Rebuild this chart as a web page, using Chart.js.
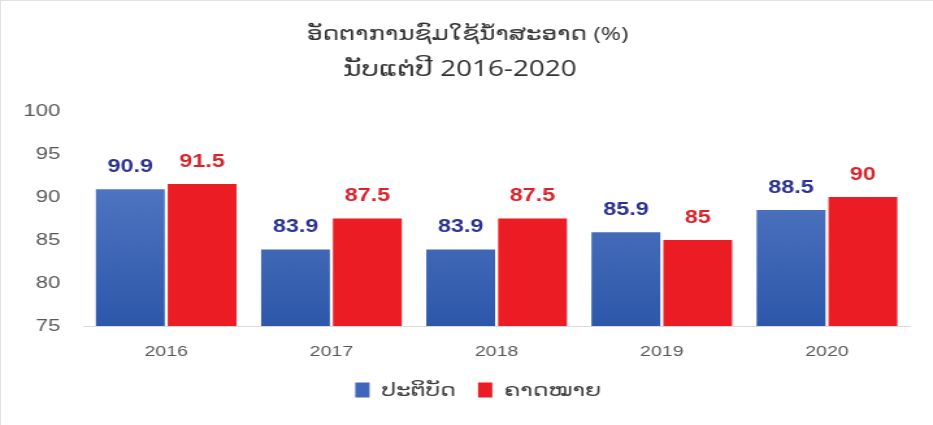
<!DOCTYPE html>
<html>
<head>
<meta charset="utf-8">
<script src="https://cdn.jsdelivr.net/npm/chart.js@4.4.1/dist/chart.umd.min.js"></script>
<style>
  html, body { margin: 0; padding: 0; background: #fff; }
  #frame { position: relative; width: 933px; height: 425px; overflow: hidden; background: #fff; }
  /* the chart is drawn on a narrower canvas and widened to the frame */
  #c { position: absolute; left: 0; top: 0; transform: scaleX(1.2994); transform-origin: 0 0; }
  #edge { position: absolute; left: 0; top: 0; right: 0; bottom: 0; box-sizing: border-box;
          border-top: 1px solid #e2e2e2; border-left: 1px solid #e2e2e2; pointer-events: none; }
</style>
</head>
<body>
<div id="frame">
  <canvas id="c" width="718" height="425"></canvas>
  <div id="edge"></div>
</div>
<script>
// Clean water usage rate, actual vs target, 2016-2020
const years = ['2016', '2017', '2018', '2019', '2020'];
const actual = [90.9, 83.9, 83.9, 85.9, 88.5];
const target = [91.5, 87.5, 87.5, 85, 90];
const seriesNames = ['ປະຕິບັດ', 'ຄາດໝາຍ'];
const titleLines = ['ອັດຕາການຊົມໃຊ້ນ້ຳສະອາດ (%)', 'ນັບແຕ່ປີ 2016-2020'];
const yTicks = [75, 80, 85, 90, 95, 100];

const SANS = "'Liberation Sans', 'DejaVu Sans', Arial, sans-serif";
const LAO = "'Open Sans', 'DejaVu Sans', sans-serif";
const seriesFills = ['#3f66b8', '#ec1c24'];
const labelColors = ['#2b3190', '#d9232a'];

function blueFill(ctx) {
  const chart = ctx.chart;
  const area = chart.chartArea;
  if (!area) return seriesFills[0];
  const g = chart.ctx.createLinearGradient(0, area.top, 0, area.bottom);
  g.addColorStop(0, '#6085cb');
  g.addColorStop(1, '#2d57aa');
  return g;
}

// Two-line heading above the plot
const heading = {
  id: 'heading',
  afterDraw(chart) {
    const c = chart.ctx;
    const cx = chart.width / 2 + 1;
    c.save();
    c.fillStyle = '#333333';
    c.textAlign = 'center';
    c.textBaseline = 'middle';
    c.font = '19px ' + LAO;
    c.fillText(titleLines[0], cx, 35);
    c.font = '21.5px ' + LAO;
    c.fillText(titleLines[1], cx - 6, 70);
    c.restore();
  }
};

// Value labels above each bar
const valueLabels = {
  id: 'valueLabels',
  afterDatasetsDraw(chart) {
    const c = chart.ctx;
    c.save();
    c.font = 'bold 18px ' + SANS;
    c.textAlign = 'center';
    c.textBaseline = 'middle';
    chart.data.datasets.forEach((ds, i) => {
      const meta = chart.getDatasetMeta(i);
      c.fillStyle = labelColors[i];
      meta.data.forEach((bar, j) => {
        c.fillText(String(ds.data[j]), bar.x, bar.y - 22);
      });
    });
    c.restore();
  }
};

// Legend row under the axis
const legendRow = {
  id: 'legendRow',
  afterDraw(chart) {
    const c = chart.ctx;
    const box = { w: 11, h: 15 }, textGap = 9, itemGap = 17, y = 390;
    c.save();
    c.font = '18px ' + LAO;
    c.textBaseline = 'middle';
    const widths = seriesNames.map(t => c.measureText(t).width);
    const total = widths.reduce((a, w) => a + box.w + textGap + w, 0) + itemGap * (seriesNames.length - 1);
    let x = chart.width / 2 + 9 - total / 2;
    seriesNames.forEach((t, i) => {
      c.fillStyle = seriesFills[i];
      c.fillRect(x, y - box.h / 2, box.w, box.h);
      x += box.w + textGap;
      c.fillStyle = '#3b3b3b';
      c.textAlign = 'left';
      c.fillText(t, x, y + 1);
      x += widths[i] + itemGap;
    });
    c.restore();
  }
};

new Chart(document.getElementById('c'), {
  type: 'bar',
  data: {
    labels: years,
    datasets: [
      { label: seriesNames[0], data: actual, backgroundColor: blueFill, borderWidth: 0,
        categoryPercentage: 0.87, barPercentage: 0.958 },
      { label: seriesNames[1], data: target, backgroundColor: seriesFills[1], borderWidth: 0,
        categoryPercentage: 0.87, barPercentage: 0.958 }
    ]
  },
  options: {
    responsive: false,
    animation: false,
    events: [],
    layout: { padding: { left: 0, right: 18, top: 111, bottom: 47 } },
    plugins: {
      title: { display: false },
      legend: { display: false },
      tooltip: { enabled: false }
    },
    scales: {
      x: {
        grid: { display: false, drawTicks: false },
        border: { display: true, color: '#d9d9d9', width: 1 },
        ticks: { color: '#595959', font: { family: SANS, size: 15 }, padding: 17 }
      },
      y: {
        min: 75, max: 100,
        afterBuildTicks(axis) { axis.ticks = yTicks.map(v => ({ value: v })); },
        grid: { display: false, drawTicks: false },
        border: { display: false },
        ticks: { color: '#595959', font: { family: SANS, size: 17 }, padding: 18 }
      }
    }
  },
  plugins: [valueLabels, heading, legendRow]
});
</script>
</body>
</html>
